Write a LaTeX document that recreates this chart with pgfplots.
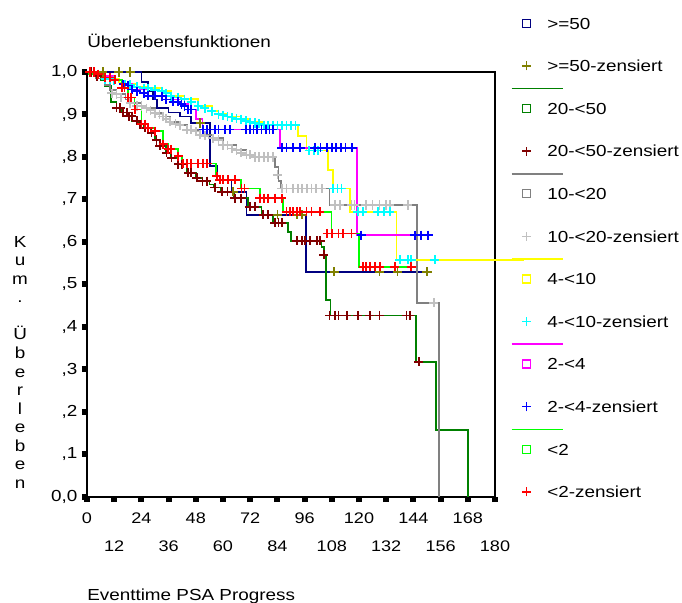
\documentclass[border=0pt]{standalone}
\usepackage{fontspec}
\setmainfont{Liberation Sans}[FakeStretch=1.18]
\usepackage{pgfplots}
\pgfplotsset{compat=1.18}

\definecolor{cNavy}{HTML}{000080}
\definecolor{cOlive}{HTML}{808000}
\definecolor{cGreen}{HTML}{008000}
\definecolor{cMaroon}{HTML}{800000}
\definecolor{cGray}{HTML}{808080}
\definecolor{cSilver}{HTML}{C0C0C0}
\definecolor{cYellow}{HTML}{FFFF00}
\definecolor{cCyan}{HTML}{00FFFF}
\definecolor{cMagenta}{HTML}{FF00FF}
\definecolor{cBlue}{HTML}{0000FF}
\definecolor{cLime}{HTML}{00FF00}
\definecolor{cRed}{HTML}{FF0000}

\pgfplotsset{
  km/.style={const plot, line width=1.3pt, forget plot, #1},
  cens/.style={only marks, mark=+, mark size=3.4pt, mark options={line width=1.3pt}, forget plot, #1},
  % legend glyphs: square (with group line above) and censor cross
  sqimg/.style={legend image code/.code={%
      \draw[overlay,line width=1.2pt,solid,#1] (-11.25pt,15pt) -- (27pt,15pt);
      \draw[line width=1pt,solid,#1,fill=none] (-3pt,-3pt) rectangle (3pt,3pt);
      \path[draw=none,fill=none] (-6pt,-4.3pt) rectangle (6pt,4.3pt);}},
  sqimgx/.style={legend image code/.code={%
      \draw[line width=1pt,solid,#1,fill=none] (-3pt,-3pt) rectangle (3pt,3pt);
      \path[draw=none,fill=none] (-6pt,-4.3pt) rectangle (6pt,4.3pt);}},
  plimg/.style={legend image code/.code={%
      \draw[line width=1.1pt,solid,#1] (-3.4pt,0pt) -- (3.4pt,0pt) (0pt,-3.4pt) -- (0pt,3.4pt);
      \path[draw=none,fill=none] (-6pt,-4.3pt) rectangle (6pt,4.3pt);}},
}

\begin{document}
\begin{tikzpicture}
\path[use as bounding box] (-65.25pt,-79.5pt) rectangle (446.25pt,372.75pt);
\begin{axis}[
  scale only axis, width=306pt, height=318.75pt,
  at={(0,0)}, anchor=south west,
  font=\fontsize{12}{14}\selectfont,
  xmin=0, xmax=180, ymin=0, ymax=1, enlargelimits=false, clip=false,
  axis line style={line width=1.4pt},
  tick align=outside, xtick pos=bottom, ytick pos=left,
  major tick length=3.75pt,
  tick style={line width=4.5pt, black},
  xtick={0,24,...,168},
  extra x ticks={12,36,...,180},
  xticklabel style={font=\fontsize{11.5}{14}\selectfont, yshift=-4.5pt},
  extra x tick style={xticklabel style={yshift=-21pt}},
  ytick={0,0.1,0.2,0.3,0.4,0.5,0.6,0.7,0.8,0.9,1},
  yticklabels={{0,0},{,1},{,2},{,3},{,4},{,5},{,6},{,7},{,8},{,9},{1,0}},
  /pgf/number format/assume math mode=true,
  title={Überlebensfunktionen},
  every axis title/.style={at={(axis description cs:0,1)}, anchor=base west, yshift=18pt, inner sep=0pt},
  xlabel={Eventtime PSA Progress},
  every axis x label/.style={at={(axis description cs:0,0)}, anchor=base west, yshift=-77.25pt, inner sep=0pt},
  ylabel={K\\u\\m\\.\\~\\Ü\\b\\e\\r\\l\\e\\b\\e\\n},
  every axis y label/.style={at={(axis description cs:-0.164,0.317)}, anchor=center, align=center, inner sep=0pt, font=\fontsize{12}{13.9}\selectfont},
  cycle list={{black}},
  legend style={at={(axis description cs:1.058,1.128)}, anchor=north west, draw=none, fill=none,
    inner sep=0pt, outer sep=0pt, row sep=23.35pt, column sep=9.45pt,
    nodes={inner sep=0pt, text height=8.6pt, text depth=0pt}},
  legend cell align=left,
]

% >=50
\addplot[km=cNavy] coordinates {(0,1) (24,0.976) (27,0.955) (29,0.935) (31,0.915) (36,0.905) (41,0.895) (46,0.88) (54.2,0.779) (57.2,0.745) (63.8,0.718) (70.4,0.664) (96.6,0.53) (152,0.53)};
\addplot[cens=cOlive] coordinates {(7,1) (14,1) (19,1) (50,0.88) (64.5,0.718) (84,0.664) (92.6,0.664) (95,0.664) (109,0.53) (129,0.53) (137,0.53) (150,0.53)};

% 20-<50
\addplot[km=cGreen] coordinates {(0,1) (3,0.99) (6,0.98) (8,0.967) (10.6,0.93) (13,0.916) (15,0.905) (18,0.896) (20,0.885) (23,0.877) (25,0.869) (28,0.857) (30,0.84) (32,0.826) (35,0.81) (37,0.798) (40,0.783) (44,0.763) (48,0.751) (51,0.743) (54,0.735) (56,0.728) (59,0.718) (65,0.703) (71,0.683) (77,0.664) (82,0.645) (88.6,0.624) (90,0.603) (103.5,0.589) (104.5,0.57) (105.4,0.463) (107.4,0.427) (145,0.318) (154,0.158) (168,0)};
\addplot[cens=cMaroon] coordinates {(2,1) (4.5,0.99) (13,0.916) (14.6,0.916) (16,0.905) (17.5,0.905) (18.5,0.896) (19.7,0.896) (21.9,0.885) (23.4,0.877) (25.6,0.869) (28.5,0.857) (30.7,0.84) (32.2,0.826) (35.1,0.81) (37.3,0.798) (40.3,0.783) (42,0.783) (44.7,0.763) (46,0.763) (48.4,0.751) (51,0.743) (52.8,0.743) (56.4,0.728) (59.4,0.718) (62,0.718) (65.3,0.703) (68,0.703) (71.9,0.683) (74,0.683) (77.7,0.664) (80,0.664) (82.9,0.645) (84.5,0.645) (86,0.645) (92.6,0.603) (94.8,0.603) (96.2,0.603) (98.4,0.603) (101.4,0.603) (102.8,0.603) (104.5,0.57) (107,0.427) (109.3,0.427) (111,0.427) (114.6,0.427) (119.5,0.427) (124.8,0.427) (129,0.427) (141,0.427) (142.4,0.427) (146.4,0.318)};

% 10-<20
\addplot[km=cGray] coordinates {(0,1) (4,0.985) (8,0.97) (10,0.958) (13,0.948) (17,0.935) (19,0.927) (24,0.92) (26.3,0.915) (30,0.903) (33.5,0.895) (36.6,0.883) (40,0.875) (44,0.864) (49.8,0.852) (55.6,0.844) (60,0.828) (66,0.816) (70.4,0.805) (74,0.8) (83,0.776) (84.5,0.744) (85.5,0.726) (107,0.687) (145.6,0.457) (155.3,0)};
\addplot[cens=cSilver] coordinates {(10.9,0.95) (13,0.948) (15,0.94) (19,0.927) (22,0.92) (24,0.92) (26.3,0.915) (28,0.91) (30,0.903) (32,0.9) (33.5,0.895) (35,0.89) (36.6,0.883) (39,0.878) (41,0.875) (44,0.864) (46,0.864) (48,0.86) (49.8,0.852) (52,0.85) (55.6,0.844) (58,0.84) (60,0.828) (62,0.828) (64,0.82) (66,0.816) (68,0.81) (70.4,0.805) (72,0.805) (74,0.8) (76,0.8) (78,0.8) (80,0.8) (82,0.8) (84,0.758) (86,0.726) (88,0.726) (91,0.726) (93,0.726) (95,0.726) (96.9,0.726) (99,0.726) (101,0.726) (103.6,0.726) (109.4,0.687) (111.6,0.687) (116.7,0.687) (118,0.687) (123,0.687) (126,0.687) (129,0.687) (132,0.687) (133.6,0.687) (141.5,0.687) (153,0.457)};

% 4-<10
\addplot[km=cYellow] coordinates {(0,1) (5,0.99) (8,0.983) (14,0.975) (17,0.971) (22,0.965) (27,0.962) (33,0.955) (37,0.943) (43,0.936) (49,0.92) (55,0.908) (58,0.901) (62,0.895) (68,0.889) (72,0.882) (78,0.875) (93.2,0.849) (96.8,0.815) (106.4,0.769) (108.6,0.726) (116,0.671) (136.5,0.558) (193,0.558)};
\addplot[cens=cCyan] coordinates {(8,0.983) (10,0.983) (12,0.98) (16.8,0.971) (19,0.97) (22,0.965) (25,0.962) (27,0.962) (30,0.958) (33,0.955) (35,0.95) (37,0.943) (40,0.94) (43,0.936) (46,0.93) (49,0.92) (52,0.915) (55,0.908) (58,0.901) (60,0.898) (62,0.895) (64,0.893) (66,0.89) (68,0.889) (70,0.885) (72,0.882) (74,0.88) (76,0.878) (78,0.875) (80,0.875) (82,0.875) (84,0.875) (86,0.875) (88,0.875) (90,0.875) (92,0.875) (98,0.815) (100,0.815) (102,0.815) (108.6,0.726) (110.5,0.726) (112.3,0.726) (119.5,0.671) (121.7,0.671) (128.3,0.671) (131,0.671) (133.6,0.671) (138,0.558) (141.7,0.558) (143,0.558) (153.5,0.558)};

% 2-<4
\addplot[km=cMagenta] coordinates {(0,1) (6,0.99) (12,0.98) (16,0.971) (19.7,0.959) (27,0.944) (35,0.935) (41.7,0.924) (44.7,0.912) (48,0.89) (51,0.865) (85,0.822) (119,0.616) (152,0.616)};
\addplot[cens=cBlue] coordinates {(16,0.971) (18,0.968) (19.7,0.959) (22,0.955) (25,0.95) (27,0.944) (30,0.944) (33,0.943) (35,0.935) (38,0.93) (40,0.93) (41.7,0.924) (43,0.92) (44.7,0.912) (46,0.912) (51.3,0.865) (53,0.865) (56.4,0.865) (58,0.865) (61,0.865) (63,0.865) (70,0.865) (72,0.865) (73.5,0.865) (75,0.865) (77,0.865) (79,0.865) (80.5,0.865) (82,0.865) (86,0.822) (88,0.822) (91,0.822) (94,0.822) (100.5,0.822) (103,0.822) (106,0.822) (108,0.822) (110,0.822) (112,0.822) (114,0.822) (117,0.822) (121,0.616) (144.6,0.616) (147.5,0.616) (150.5,0.616)};

% <2
\addplot[km=cLime] coordinates {(0,1) (1,0.995) (5,0.99) (8,0.987) (12.3,0.982) (15.3,0.963) (18.2,0.94) (21,0.912) (24,0.877) (27,0.869) (30,0.861) (33.6,0.83) (35.8,0.818) (40.3,0.802) (42,0.785) (57,0.755) (58.6,0.746) (68,0.726) (76.3,0.703) (86.6,0.671) (107.9,0.62) (120,0.542) (145,0.542)};
\addplot[cens=cRed] coordinates {(1.3,1) (3,1) (5,0.995) (8,0.987) (10,0.987) (12.3,0.982) (15.3,0.963) (16.5,0.963) (18.2,0.94) (19.5,0.94) (21.2,0.912) (24,0.877) (25.5,0.877) (27,0.869) (30,0.861) (33.6,0.83) (35.8,0.818) (37,0.818) (40.3,0.802) (42.5,0.785) (44,0.785) (46,0.785) (49,0.785) (51.3,0.785) (53,0.785) (57.2,0.755) (58.6,0.746) (60,0.746) (62.3,0.746) (65.3,0.746) (68.2,0.726) (69.5,0.726) (76.3,0.703) (78,0.703) (80,0.703) (83,0.703) (86,0.703) (88,0.671) (89.5,0.671) (91,0.671) (92.5,0.671) (94,0.671) (96.8,0.671) (99,0.671) (102.7,0.671) (106,0.62) (108,0.62) (111,0.62) (113,0.62) (116.7,0.62) (121.8,0.542) (123,0.542) (125,0.542) (127,0.542) (129.2,0.542) (135.8,0.542) (143,0.542)};

% legend
\addlegendimage{sqimgx=cNavy}\addlegendentry{>=50}
\addlegendimage{plimg=cOlive}\addlegendentry{>=50-zensiert}
\addlegendimage{sqimg=cGreen}\addlegendentry{20-<50}
\addlegendimage{plimg=cMaroon}\addlegendentry{20-<50-zensiert}
\addlegendimage{sqimg=cGray}\addlegendentry{10-<20}
\addlegendimage{plimg=cSilver}\addlegendentry{10-<20-zensiert}
\addlegendimage{sqimg=cYellow}\addlegendentry{4-<10}
\addlegendimage{plimg=cCyan}\addlegendentry{4-<10-zensiert}
\addlegendimage{sqimg=cMagenta}\addlegendentry{2-<4}
\addlegendimage{plimg=cBlue}\addlegendentry{2-<4-zensiert}
\addlegendimage{sqimg=cLime}\addlegendentry{<2}
\addlegendimage{plimg=cRed}\addlegendentry{<2-zensiert}
\end{axis}
\end{tikzpicture}
\end{document}
